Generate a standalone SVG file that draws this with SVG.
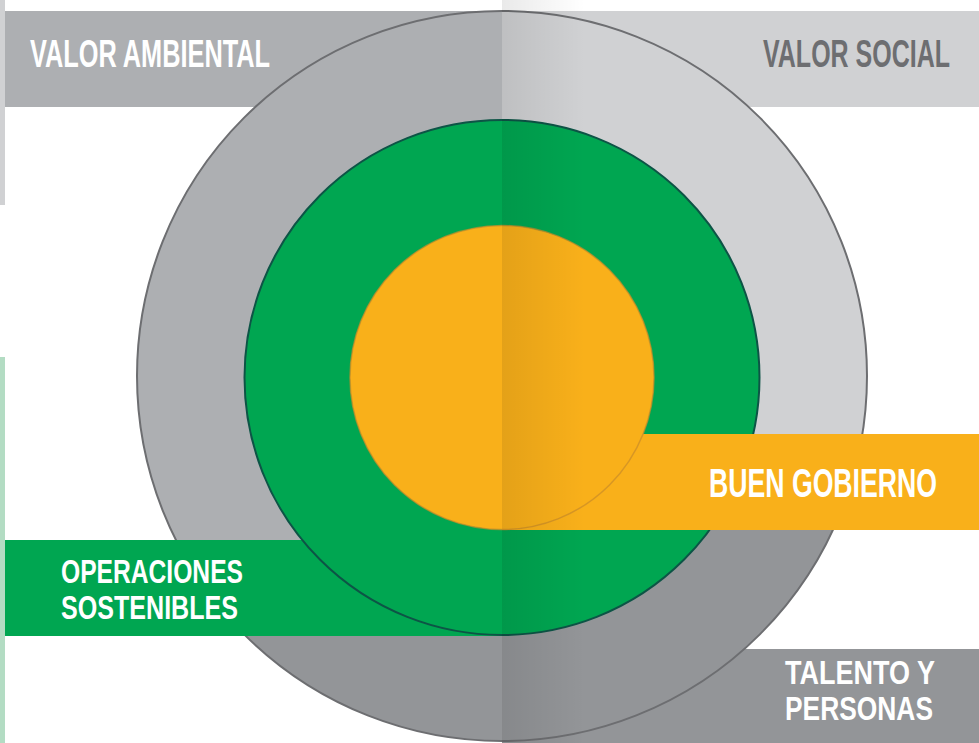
<svg xmlns="http://www.w3.org/2000/svg" width="979" height="743" viewBox="0 0 979 743">
  <defs>
    <style>
      .lbl { font-family: "Liberation Sans Narrow", "Liberation Sans", Arial, sans-serif; font-weight: bold; fill: #ffffff; }
      .lbl-dark { font-family: "Liberation Sans Narrow", "Liberation Sans", Arial, sans-serif; font-weight: bold; fill: #6d6e71; }
    </style>
    <clipPath id="bigClip"><circle cx="502" cy="376" r="365"/></clipPath>
    <linearGradient id="shade" x1="502" y1="0" x2="585" y2="0" gradientUnits="userSpaceOnUse">
      <stop offset="0" stop-color="#000" stop-opacity="0.085"/>
      <stop offset="1" stop-color="#000" stop-opacity="0"/>
    </linearGradient>
  </defs>
  <rect width="979" height="743" fill="#ffffff"/>

  <!-- left edge strips -->
  <rect x="0" y="0" width="5" height="205" fill="#d0d1d3"/>
  <rect x="0" y="357" width="5" height="386" fill="#b3dcc3"/>

  <!-- header / footer bands (under big circle) -->
  <rect x="5" y="11" width="497" height="96" fill="#adafb2"/>
  <rect x="502" y="11" width="477" height="96" fill="#d0d1d3"/>
  <rect x="502" y="649" width="477" height="94" fill="#939598"/>

  <!-- outer ring -->
  <g id="outer-ring">
    <g clip-path="url(#bigClip)">
      <rect x="0" y="0" width="979" height="743" fill="#939598"/>
      <rect x="0" y="0" width="502" height="588" fill="#adafb2"/>
      <rect x="502" y="0" width="477" height="482" fill="#d0d1d3"/>
    </g>
    <circle cx="502" cy="376" r="365" fill="none" stroke="#6d6e71" stroke-width="2"/>
  </g>

  <!-- green band -->
  <rect x="5" y="540" width="497" height="96" fill="#00a651"/>

  <!-- green ring -->
  <g id="green-ring">
    <circle cx="502" cy="377.5" r="257.5" fill="#00a651" stroke="#0d5446" stroke-width="2"/>
  </g>

  <!-- orange band -->
  <rect x="502" y="434" width="477" height="96" fill="#f9b01a"/>

  <!-- orange core -->
  <g id="orange-core">
    <circle cx="502" cy="377.5" r="152" fill="#f9b01a" stroke="#c98b2a" stroke-opacity="0.7" stroke-width="1.5"/>
  </g>

  <!-- shading on right half -->
  <rect x="502" y="0" width="90" height="743" fill="url(#shade)"/>

  <g id="valor-ambiental">
    <text class="lbl" x="30" y="67" font-size="39" textLength="240" lengthAdjust="spacingAndGlyphs">VALOR AMBIENTAL</text>
  </g>
  <g id="valor-social">
    <text class="lbl-dark" x="763" y="67" font-size="39" textLength="187" lengthAdjust="spacingAndGlyphs">VALOR SOCIAL</text>
  </g>
  <g id="buen-gobierno">
    <text class="lbl" x="709" y="497" font-size="41" textLength="228" lengthAdjust="spacingAndGlyphs">BUEN GOBIERNO</text>
  </g>
  <g id="operaciones-sostenibles">
    <text class="lbl" x="61" y="583" font-size="34" textLength="182" lengthAdjust="spacingAndGlyphs">OPERACIONES</text>
    <text class="lbl" x="61" y="619" font-size="34" textLength="177" lengthAdjust="spacingAndGlyphs">SOSTENIBLES</text>
  </g>
  <g id="talento-y-personas">
    <text class="lbl" x="785" y="684" font-size="34" textLength="150" lengthAdjust="spacingAndGlyphs">TALENTO Y</text>
    <text class="lbl" x="785" y="720" font-size="34" textLength="148" lengthAdjust="spacingAndGlyphs">PERSONAS</text>
  </g>
</svg>
